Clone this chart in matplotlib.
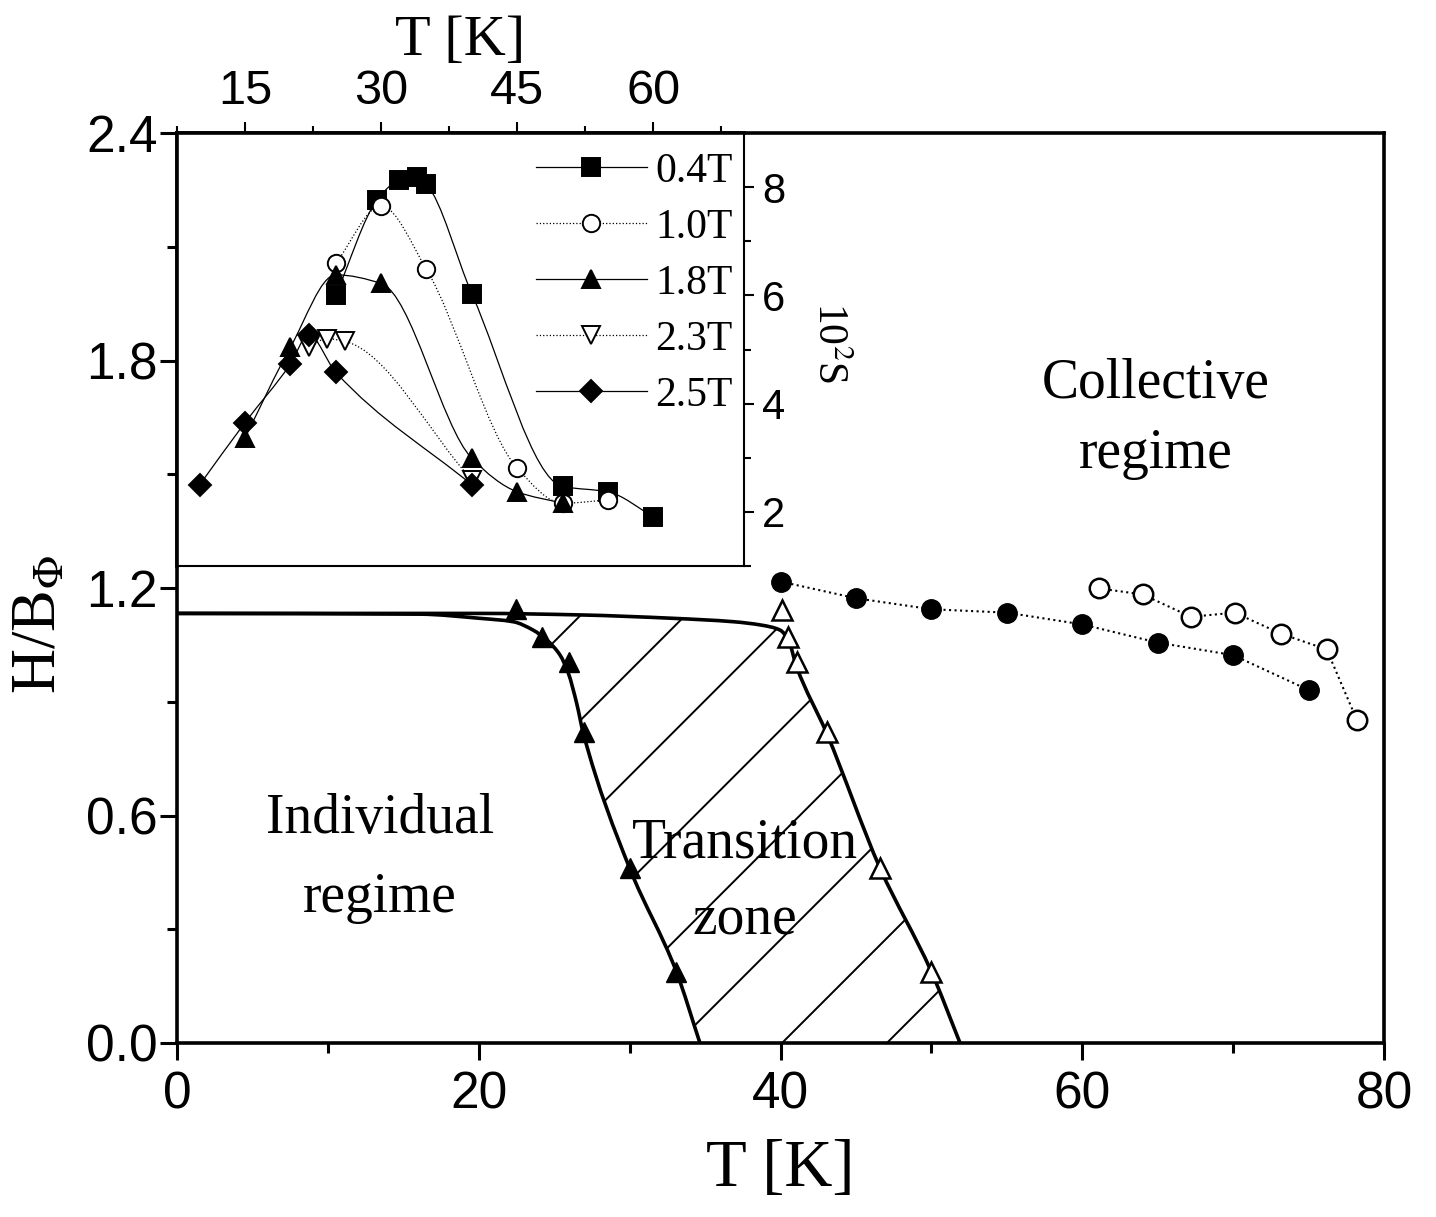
import numpy as np
import matplotlib.pyplot as plt
from matplotlib.path import Path
from matplotlib.patches import PathPatch
from matplotlib.lines import Line2D
from matplotlib.ticker import MultipleLocator

plt.rcParams['font.family'] = ['Liberation Serif', 'DejaVu Serif']
plt.rcParams['mathtext.fontset'] = 'stix'

# ---- main panel data (H/B_phi vs T) ----
T_tri_filled = [22.5, 24.2, 26.0, 27.0, 30.0, 33.1]
H_tri_filled = [1.145, 1.072, 1.005, 0.821, 0.461, 0.188]
T_tri_open = [40.1, 40.5, 41.1, 43.1, 46.6, 50.0]
H_tri_open = [1.142, 1.072, 1.005, 0.821, 0.461, 0.188]
T_circ_filled = [40, 45, 50, 55, 60, 65, 70, 75]
H_circ_filled = [1.217, 1.173, 1.144, 1.135, 1.104, 1.056, 1.023, 0.931]
T_circ_open = [61.1, 64.0, 67.2, 70.1, 73.2, 76.2, 78.2]
H_circ_open = [1.199, 1.183, 1.124, 1.135, 1.079, 1.038, 0.852]

# boundaries of the transition zone
T_bound_upper = [0, 20.1, 26.7, 32.9, 36.9, 38.75, 39.97, 40.52, 41.07, 43.06, 46.6, 50.0, 51.9]
H_bound_upper = [1.133, 1.133, 1.129, 1.120, 1.111, 1.102, 1.089, 1.063, 0.992, 0.817, 0.461, 0.188, 0.0]
T_bound_lower = [0, 16.1, 20.08, 22.29, 23.6, 24.5, 25.39, 25.94, 26.49, 26.93, 30.0, 33.1, 34.66]
H_bound_lower = [1.133, 1.131, 1.120, 1.111, 1.089, 1.063, 1.023, 0.975, 0.896, 0.817, 0.461, 0.188, 0.0]

# ---- inset data (10^2 S vs T) ----
T_04 = [25, 29.6, 32, 34, 35, 40, 50, 55, 60]
S_04 = [6.0, 7.77, 8.13, 8.18, 8.05, 6.03, 2.47, 2.37, 1.91]
T_10 = [25, 30, 35, 45, 50, 55]
S_10 = [6.59, 7.65, 6.48, 2.81, 2.16, 2.22]
T_18 = [15, 20, 25, 30, 40, 45, 50]
S_18 = [3.37, 5.04, 6.38, 6.22, 2.99, 2.37, 2.16]
T_23 = [22, 24, 26, 40]
S_23 = [5.04, 5.2, 5.15, 2.59]
T_25 = [10, 15, 20, 22, 25, 40]
S_25 = [2.5, 3.65, 4.73, 5.27, 4.58, 2.5]

inset_series = [
    ("0.4T", T_04, S_04, 's', 'k', '-'),
    ("1.0T", T_10, S_10, 'o', 'w', ':'),
    ("1.8T", T_18, S_18, '^', 'k', '-'),
    ("2.3T", T_23, S_23, 'v', 'w', ':'),
    ("2.5T", T_25, S_25, 'D', 'k', '-'),
]

W, H = 1436, 1217
fig = plt.figure(figsize=(W / 100, H / 100), dpi=100)
ax = fig.add_axes([177 / W, 1 - 1043 / H, (1384 - 177) / W, (1043 - 133) / H])
ax_in = fig.add_axes([177 / W, 1 - 566 / H, (744 - 177) / W, (566 - 133) / H])


def smooth_path(x, y):
    """Shape-preserving (monotone) cubic through the points, as Bezier segments."""
    x = np.asarray(x, float)
    y = np.asarray(y, float)
    h = np.diff(x)
    d = np.diff(y) / h
    m = np.empty_like(x)
    m[0], m[-1] = d[0], d[-1]
    for i in range(1, len(x) - 1):
        if d[i - 1] * d[i] <= 0:
            m[i] = 0.0
        else:
            w1 = 2 * h[i] + h[i - 1]
            w2 = h[i] + 2 * h[i - 1]
            m[i] = (w1 + w2) / (w1 / d[i - 1] + w2 / d[i])
    verts = [(x[0], y[0])]
    codes = [Path.MOVETO]
    for i in range(len(x) - 1):
        verts += [(x[i] + h[i] / 3, y[i] + m[i] * h[i] / 3),
                  (x[i + 1] - h[i] / 3, y[i + 1] - m[i + 1] * h[i] / 3),
                  (x[i + 1], y[i + 1])]
        codes += [Path.CURVE4] * 3
    return verts, codes


def curve(x, y):
    v, c = smooth_path(x, y)
    return Path(v, c)


# ---- main panel ----
ax.set_xlim(0, 80)
ax.set_ylim(0, 2.4)

# transition zone outline: upper boundary, then lower boundary walked back
v_up, c_up = smooth_path(T_bound_upper, H_bound_upper)
v_lo, c_lo = smooth_path(T_bound_lower, H_bound_lower)
v_zone = v_up + [v_lo[-1]]
c_zone = c_up + [Path.LINETO]
for i in range(len(v_lo) - 1, 0, -3):
    v_zone += [v_lo[i - 1], v_lo[i - 2], v_lo[i - 3]]
    c_zone += [Path.CURVE4] * 3
zone = PathPatch(Path(v_zone + [v_zone[0]], c_zone + [Path.CLOSEPOLY]),
                 fill=False, edgecolor='none', transform=ax.transData)
ax.add_patch(zone)
# 45 degree hatch lines (in screen space) clipped to the transition zone
bb = ax.get_position()
slope = (bb.width * W / 80) / (bb.height * H / 2.4)
for k0 in np.arange(-1.6, 50, 6.95):
    xs = np.array([k0 - 2, k0 + 40])
    ln, = ax.plot(xs, slope * (xs - k0), color='k', lw=1.4, zorder=2)
    ln.set_clip_path(zone)

ax.add_patch(PathPatch(curve(T_bound_upper, H_bound_upper), fill=False,
                       edgecolor='k', lw=2.6, zorder=3))
ax.add_patch(PathPatch(curve(T_bound_lower, H_bound_lower), fill=False,
                       edgecolor='k', lw=2.6, zorder=3))

ax.plot(T_tri_filled, H_tri_filled, ls='none', marker='^', ms=15, mfc='k', mec='k', zorder=4)
ax.plot(T_tri_open, H_tri_open, ls='none', marker='^', ms=15, mfc='w', mec='k', mew=1.8, zorder=4)
ax.plot(T_circ_filled, H_circ_filled, ls=':', lw=1.5, color='k', marker='o', ms=14,
        mfc='k', mec='k', zorder=4)
ax.plot(T_circ_open, H_circ_open, ls=':', lw=1.5, color='k', marker='o', ms=14,
        mfc='w', mec='k', mew=1.8, zorder=4)

ax.text(13.45, 0.554, "Individual", fontsize=40, ha='center', va='baseline')
ax.text(13.45, 0.345, "regime", fontsize=40, ha='center', va='baseline')
ax.text(37.65, 0.488, "Transition", fontsize=40, ha='center', va='baseline', zorder=5)
ax.text(37.65, 0.285, "zone", fontsize=40, ha='center', va='baseline', zorder=5)
ax.text(64.9, 1.701, "Collective", fontsize=40, ha='center', va='baseline')
ax.text(64.9, 1.516, "regime", fontsize=40, ha='center', va='baseline')

ax.xaxis.set_major_locator(MultipleLocator(20))
ax.xaxis.set_minor_locator(MultipleLocator(10))
ax.yaxis.set_major_locator(MultipleLocator(0.6))
ax.yaxis.set_minor_locator(MultipleLocator(0.3))
ax.yaxis.set_major_formatter(plt.FormatStrFormatter('%.1f'))
ax.tick_params(which='both', direction='out', top=False, right=False, width=2.2,
               labelsize=37, labelfontfamily='Liberation Sans')
ax.tick_params(which='major', length=12)
ax.tick_params(which='minor', length=7)
ax.tick_params(axis='y', pad=2)
ax.tick_params(axis='x', pad=8)
for sp in ax.spines.values():
    sp.set_linewidth(2.6)

ax.set_xlabel("T [K]", fontsize=48)
ax.xaxis.set_label_coords(0.5, -0.105)
ax.set_ylabel(r"H/B$_{\Phi}$", fontsize=45)
ax.yaxis.set_label_coords(-0.09, 0.46)

# ---- inset ----
ax_in.set_xlim(7.5, 70)
ax_in.set_ylim(1, 9)
for label, xs, ys, mk, fc, ls in inset_series:
    ax_in.add_patch(PathPatch(curve(xs, ys), fill=False, edgecolor='k',
                              lw=0.9, linestyle=ls, zorder=2))
for label, xs, ys, mk, fc, ls in inset_series:
    ax_in.plot(xs, ys, ls='none', marker=mk, ms=12.5 if mk != 'D' else 11,
               mfc=fc, mec='k', mew=1.4, zorder=3)

handles = [Line2D([], [], color='k', lw=0.9, ls=ls, marker=mk,
                  ms=12.5 if mk != 'D' else 11, mfc=fc, mec='k', mew=1.4)
           for label, xs, ys, mk, fc, ls in inset_series]
labels = [s[0] for s in inset_series]
ax_in.legend(handles, labels, loc='upper left', bbox_to_anchor=(0.633, 0.955),
             frameon=False, fontsize=30, handlelength=2.66, handletextpad=0.2,
             labelspacing=0.42, borderpad=0, borderaxespad=0, numpoints=1)

ax_in.xaxis.tick_top()
ax_in.yaxis.tick_right()
ax_in.xaxis.set_major_locator(MultipleLocator(15))
ax_in.xaxis.set_minor_locator(MultipleLocator(7.5))
ax_in.yaxis.set_major_locator(MultipleLocator(2))
ax_in.yaxis.set_minor_locator(MultipleLocator(1))
ax_in.tick_params(which='both', direction='out', width=1.5, left=False, bottom=False,
                  labelleft=False, labelbottom=False,
                  labelfontfamily='Liberation Sans')
ax_in.tick_params(axis='x', which='major', length=8, labelsize=35, pad=6)
ax_in.tick_params(axis='x', which='minor', length=5)
ax_in.tick_params(axis='y', which='major', length=7, labelsize=30, pad=6)
ax_in.tick_params(axis='y', which='minor', length=5)
for sp in ax_in.spines.values():
    sp.set_linewidth(1.5)
ax_in.spines['top'].set_linewidth(2.6)
ax_in.spines['left'].set_linewidth(2.6)

ax_in.xaxis.set_label_position('top')
ax_in.set_xlabel("T [K]", fontsize=42)
ax_in.xaxis.set_label_coords(0.5, 1.18)
ax_in.yaxis.set_label_position('right')
ax_in.set_ylabel(r"10$^2$S", fontsize=30, rotation=270, va='bottom', ha='center')
ax_in.yaxis.set_label_coords(1.115, 0.515)

fig.savefig("out.png", dpi=100)
